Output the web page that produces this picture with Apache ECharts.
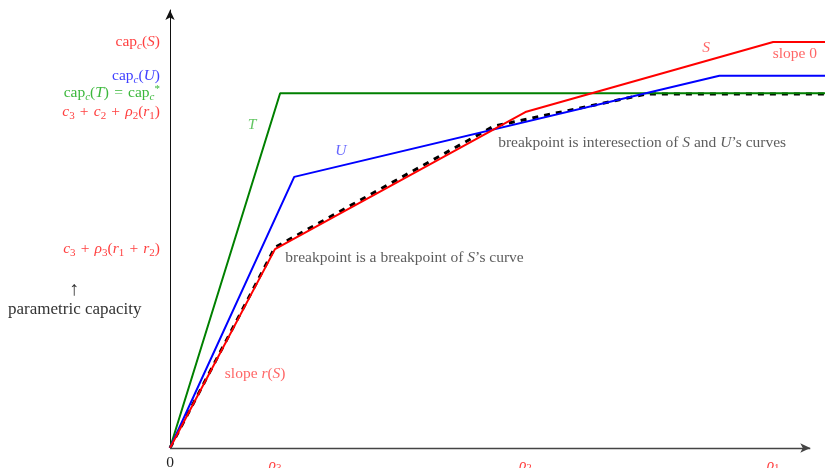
<!DOCTYPE html>
<html>
<head>
<meta charset="utf-8">
<script src="https://cdn.jsdelivr.net/npm/echarts@6/dist/echarts.min.js"></script>
<style>html,body{margin:0;padding:0;background:#fff}#c{width:825px;height:468px}</style>
</head>
<body>
<div id="c"></div>
<script>
// ---- data ----
const curveT = [[0, 0], [17.2, 81.0], [102.3, 81.0]];
const curveU = [[0, 0], [19.4, 61.9], [85.8, 85.0], [102.3, 85.0]];
const curveS = [[0, 0], [16.4, 45.4], [55.5, 76.7], [94.2, 92.7], [102.3, 92.7]];
const envelope = [[0, 0], [16.4, 45.8], [50.6, 73.5], [74.4, 80.8], [102.3, 80.8]];

const xAxisEnd = 100;
const xTickValues = [0, 16.4, 55.5, 94.2];
const xTickLabels = ['{k|0}', '{iR|ρ}{dR|3}', '{iR|ρ}{dR|2}', '{iR|ρ}{dR|1}'];

const P = '\u2004+\u2004';
const yTickValues = [45.4, 76.7, 81.0, 85.0, 92.7];
const yTickLabels = [
  '{iR|c}{dR|3}{rR|' + P + '}{iR|ρ}{dR|3}{rR|(}{iR|r}{dR|1}{rR|' + P + '}{iR|r}{dR|2}{rR|)}',
  '{iR|c}{dR|3}{rR|' + P + '}{iR|c}{dR|2}{rR|' + P + '}{iR|ρ}{dR|2}{rR|(}{iR|r}{dR|1}{rR|)}',
  '{rG|cap}{sG|c}{rG|(}{iG|T}{rG|)\u2004=\u2004cap}{sG|c}{supG|*}',
  '{rB|cap}{sB|c}{rB|(}{iB|U}{rB|)}',
  '{rR|cap}{sR|c}{rR|(}{iR|S}{rR|)}'
];

const noteX = [12.8, 26.7, 83.75, 97.6, 13.3, 51.25, 18.0];
const noteY = [73.7, 67.8, 91.3, 90.0, 16.9, 69.6, 43.4];
const noteText = [
  '{iG|T}',
  '{iB|U}',
  '{iR|S}',
  '{rR|slope 0}',
  '{rR|slope }{iR|r}{rR|(}{iR|S}{rR|)}',
  '{rK|breakpoint is interesection of }{iK|S}{rK| and }{iK|U}{rK|’s curves}',
  '{rK|breakpoint is a breakpoint of }{iK|S}{rK|’s curve}'
];
const noteAlign = ['center', 'center', 'center', 'center', 'center', 'left', 'left'];

// ---- styles ----
const SERIF = 'Liberation Serif';
const FS = 15.5;
function richFor(colors) {
  const r = {};
  for (const k in colors) {
    const c = colors[k];
    r['r' + k] = { color: c, fontFamily: SERIF, fontSize: FS };
    r['i' + k] = { color: c, fontFamily: SERIF, fontSize: FS, fontStyle: 'italic' };
    r['s' + k] = { color: c, fontFamily: SERIF, fontSize: 11, fontStyle: 'italic', padding: [8, 0, 0, 0] };
    r['d' + k] = { color: c, fontFamily: SERIF, fontSize: 11, padding: [8, 0, 0, 0] };
    r['sup' + k] = { color: c, fontFamily: SERIF, fontSize: 11, padding: [0, 0, 8, 0] };
  }
  r.k = { color: '#222', fontFamily: SERIF, fontSize: FS };
  return r;
}
const rich = richFor({ R: '#ff4040', B: '#4040ff', G: '#3cb83c', K: '#333333' });

const chart = echarts.init(document.getElementById('c'), null, { renderer: 'canvas' });

function lineSeries(data, color, extra) {
  return Object.assign({
    type: 'line', data: data, symbol: 'none', clip: false, silent: true,
    lineStyle: { color: color, width: 2 }, animation: false
  }, extra || {});
}

chart.setOption({
  animation: false,
  backgroundColor: '#ffffff',
  grid: { left: 170, right: 0, top: 10, bottom: 20, containLabel: false, outerBoundsMode: 'none' },
  xAxis: {
    type: 'value', min: 0, max: 102.3,
    axisLine: { show: false },
    axisTick: { show: false },
    splitLine: { show: false },
    axisLabel: {
      customValues: xTickValues, hideOverlap: false, margin: 7,
      formatter: v => xTickLabels[xTickValues.indexOf(v)] || '',
      rich: rich
    }
  },
  yAxis: {
    type: 'value', min: 0, max: 100,
    axisLine: { show: true, onZero: false, symbol: ['none', 'arrow'], symbolSize: [7, 10],
      lineStyle: { color: '#111', width: 1 } },
    axisTick: { show: false },
    splitLine: { show: false },
    axisLabel: {
      customValues: yTickValues, hideOverlap: false, margin: 10,
      formatter: v => yTickLabels[yTickValues.indexOf(v)] || '',
      rich: rich
    }
  },
  graphic: [
    { type: 'text', left: 69, top: 280, style: { text: '↑', fill: '#333', font: '20px ' + SERIF } },
    { type: 'text', left: 8, top: 301, style: { text: 'parametric capacity', fill: '#333', font: '17px ' + SERIF } }
  ],
  series: [
    lineSeries(envelope, '#000000', { lineStyle: { color: '#000', width: 3, type: [6, 6] }, z: 1 }),
    lineSeries(curveT, '#008000', { z: 2 }),
    lineSeries(curveU, '#0000ff', { z: 2 }),
    lineSeries(curveS, '#ff0000', { z: 2 }),
    {
      type: 'scatter', symbolSize: 0, silent: true, clip: false, z: 4,
      data: noteX.map((x, i) => ({
        value: [x, noteY[i]],
        label: {
          show: true, position: noteAlign[i] === 'left' ? 'right' : 'inside', distance: 0,
          formatter: noteText[i], rich: rich
        }
      })),
      markLine: {
        silent: true, animation: false,
        symbol: ['none', 'arrow'], symbolSize: [7, 10],
        label: { show: false },
        lineStyle: { color: '#444', width: 1.3, type: 'solid' },
        data: [[{ coord: [0, 0] }, { coord: [xAxisEnd, 0] }]]
      }
    }
  ]
});
</script>
</body>
</html>
